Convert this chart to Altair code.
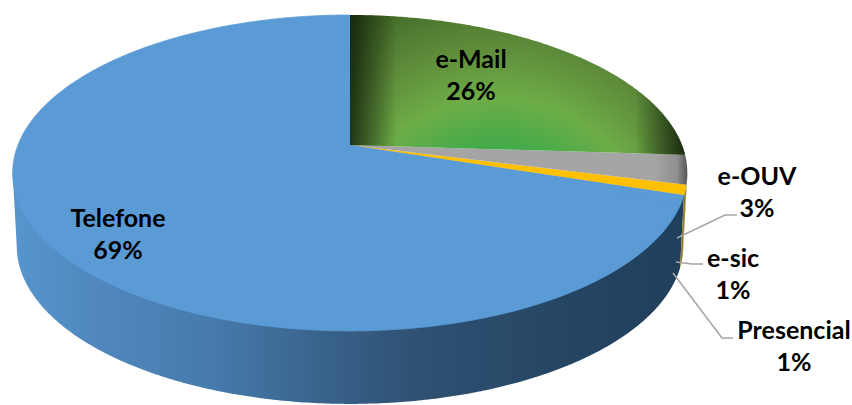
import numpy as np
import altair as alt

# Contact channels and their shares, clockwise from twelve o'clock
categories = ["e-Mail", "e-OUV", "e-sic", "Presencial", "Telefone"]
shares = [26, 3, 1, 1, 69]

# Pixel layout of the tilted disc
CX, CY = 350.0, 145.0       # pie centre as seen in perspective
SCALE_X, SCALE_Y = 332.0, 153.0
TILT = 0.177
WALL_DROP = 73.0
WALL_SHRINK = 0.988

label_layout = {
    "e-Mail": (471, 60),
    "Telefone": (118, 219),
    "e-OUV": (757, 177),
    "e-sic": (733, 259),
    "Presencial": (794, 331),
}
leader_paths = {
    "e-OUV": [(677, 238), (725, 215), (737, 215)],
    "e-sic": [(676, 262), (692, 264), (703, 264)],
    "Presencial": [(673, 273), (722, 338), (733, 338)],
}


def top_point(deg):
    """Project a rim angle (clockwise from the far side) onto the tilted top face."""
    t = np.radians(deg)
    u, v = np.sin(t), np.cos(t)
    w = 1 + TILT * v
    return CX + SCALE_X * u / w, CY - SCALE_Y * v / w


def bottom_point(deg):
    x, y = top_point(deg)
    return CX + (x - CX) * WALL_SHRINK, y + WALL_DROP


def arc(fn, start, end):
    steps = max(2, int(abs(end - start) * 2) + 1)
    return [tuple(map(float, fn(a))) for a in np.linspace(start, end, steps)]


def polygon(points):
    ring = [list(p) for p in points]
    ring.append(ring[0])
    return {"type": "Feature", "properties": {},
            "geometry": {"type": "Polygon", "coordinates": [ring]}}


def stops(*pairs):
    return [{"offset": o, "color": c} for o, c in pairs]


def shape(feature, strokeWidth=0, **mark_kwargs):
    return alt.Chart(alt.Data(values=[feature])).mark_geoshape(
        filled=True, strokeWidth=strokeWidth, **mark_kwargs
    )


def horizontal(*pairs):
    return {"gradient": "linear", "x1": 0, "y1": 0, "x2": 1, "y2": 0, "stops": stops(*pairs)}


edges = np.cumsum([0] + shares) * 3.6
span = {name: (float(edges[i]), float(edges[i + 1])) for i, name in enumerate(categories)}

sweep = np.arange(0, 360, 0.25)
right_extreme = float(sweep[np.argmax([top_point(a)[0] for a in sweep])])
left_extreme = float(sweep[np.argmin([top_point(a)[0] for a in sweep])])

# Rim wall: slices that face the viewer, extruded downwards
wall_start = span["Presencial"][0]
main_wall = polygon(
    [top_point(wall_start)] + arc(bottom_point, wall_start, left_extreme) + [top_point(left_extreme)]
)
sic_wall = polygon(
    arc(top_point, *span["e-sic"]) + arc(bottom_point, span["e-sic"][1], span["e-sic"][0])
)
ouv_wall = polygon(
    arc(top_point, right_extreme, span["e-OUV"][1])
    + arc(bottom_point, span["e-OUV"][1], right_extreme)
)


def wedge(name):
    a, b = span[name]
    return polygon([(CX, CY)] + arc(top_point, a, b))


BLUE = "#5B9BD5"

layers = [
    shape(main_wall, fill=horizontal(
        (0.0, "#5895CE"), (0.12, "#5088BE"), (0.3, "#467AAB"), (0.45, "#3A648E"),
        (0.6, "#2F5173"), (0.8, "#264764"), (1.0, "#1F3F5B"))),
    shape(ouv_wall, fill="#5A5A5A"),
    shape(sic_wall, fill="#8F7A20"),
    shape(wedge("Telefone"), fill=BLUE, stroke=BLUE, strokeWidth=0.8),
    shape(wedge("Presencial"), fill=BLUE, stroke=BLUE, strokeWidth=0.8),
    shape(wedge("e-sic"), fill="#FFC000"),
    shape(wedge("e-OUV"), fill=horizontal(
        (0.0, "#A5A5A5"), (0.9, "#A5A5A5"), (0.97, "#8F8F8F"), (1.0, "#555555"))),
    shape(wedge("e-Mail"), fill={
        "gradient": "radial", "x1": 0.44, "y1": 1.0, "r1": 0.0,
        "x2": 0.44, "y2": 1.0, "r2": 1.0,
        "stops": stops(
            (0.0, "#34A94C"), (0.3, "#3FAA4A"), (0.46, "#6DAD47"), (0.6, "#608F3C"),
            (0.8, "#426A28"), (1.0, "#1A2A0E")),
    }),
    shape(wedge("e-Mail"), fill=horizontal(
        (0.0, "rgba(10,20,5,0.75)"), (0.14, "rgba(10,20,5,0)"),
        (0.85, "rgba(10,20,5,0)"), (1.0, "rgba(10,20,5,0.8)"))),
]

# Leader lines from the narrow slices to their labels
for name, path in leader_paths.items():
    layers.append(
        alt.Chart(alt.Data(values=[{
            "type": "Feature", "properties": {},
            "geometry": {"type": "LineString", "coordinates": [list(p) for p in path]},
        }])).mark_geoshape(filled=False, stroke="#A6A6A6", strokeWidth=1.6)
    )

label_rows = [
    {"text": f"{name}\n{share}%", "px": label_layout[name][0], "py": label_layout[name][1]}
    for name, share in zip(categories, shares)
]
layers.append(
    alt.Chart(alt.Data(values=label_rows)).mark_text(
        font="Lato", fontWeight="bold", fontSize=25, color="#000000",
        align="center", baseline="middle", lineBreak="\n", lineHeight=32,
    ).encode(
        x=alt.X("px:Q", scale=None, axis=None),
        y=alt.Y("py:Q", scale=None, axis=None),
        text="text:N",
    )
)

chart = alt.layer(*layers).properties(
    width=852,
    height=405,
    padding=0,
    autosize=alt.AutoSizeParams(type="none"),
    projection=alt.Projection(type="identity", scale=1, translate=[0, 0]),
    background="#FFFFFF",
).configure_view(stroke=None)

chart.save("out.html", embed_options={"renderer": "svg", "actions": False})
